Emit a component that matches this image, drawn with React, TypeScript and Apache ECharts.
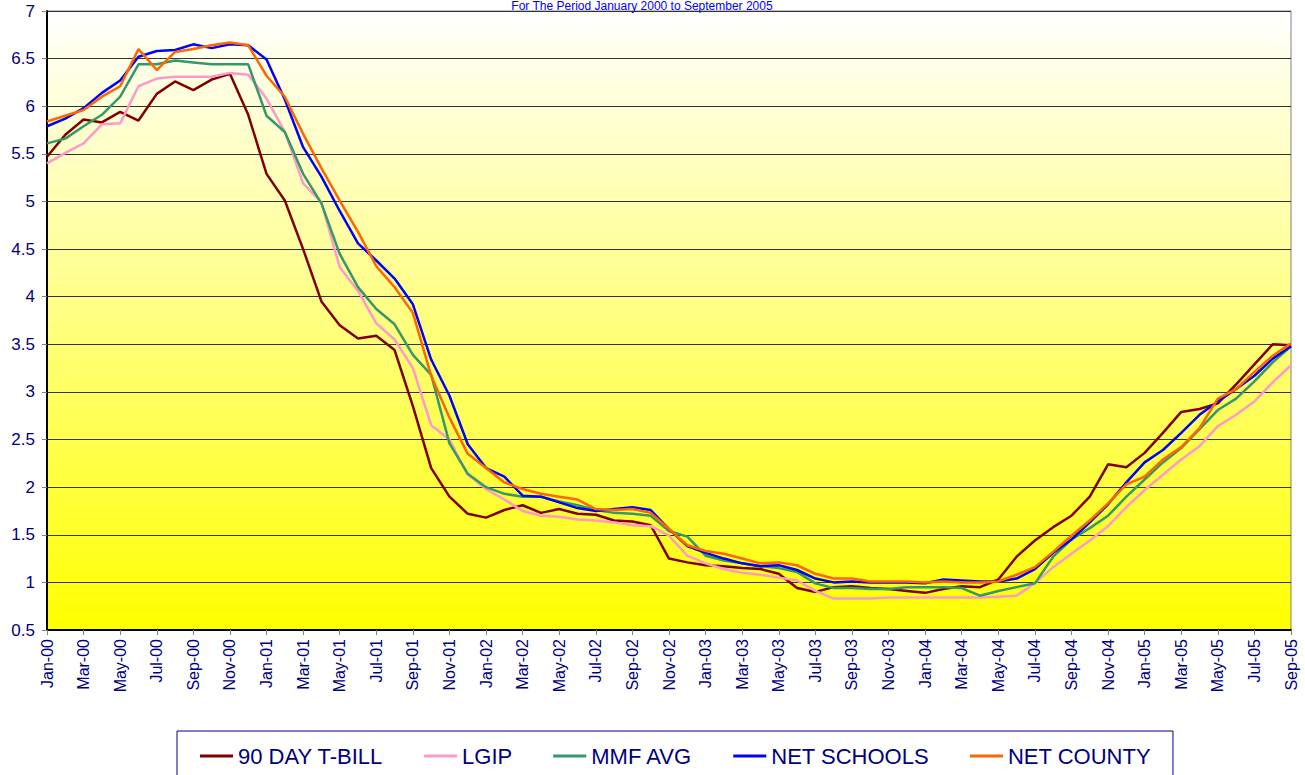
import React, { useEffect, useRef } from "react";
import * as echarts from "echarts";

const months: string[] = [
  "Jan-00","Feb-00","Mar-00","Apr-00","May-00","Jun-00","Jul-00","Aug-00","Sep-00","Oct-00","Nov-00","Dec-00",
  "Jan-01","Feb-01","Mar-01","Apr-01","May-01","Jun-01","Jul-01","Aug-01","Sep-01","Oct-01","Nov-01","Dec-01",
  "Jan-02","Feb-02","Mar-02","Apr-02","May-02","Jun-02","Jul-02","Aug-02","Sep-02","Oct-02","Nov-02","Dec-02",
  "Jan-03","Feb-03","Mar-03","Apr-03","May-03","Jun-03","Jul-03","Aug-03","Sep-03","Oct-03","Nov-03","Dec-03",
  "Jan-04","Feb-04","Mar-04","Apr-04","May-04","Jun-04","Jul-04","Aug-04","Sep-04","Oct-04","Nov-04","Dec-04",
  "Jan-05","Feb-05","Mar-05","Apr-05","May-05","Jun-05","Jul-05","Aug-05","Sep-05",
];

const tBill: number[] = [
  5.47, 5.70, 5.86, 5.83, 5.94, 5.85, 6.13, 6.26, 6.17, 6.28, 6.34, 5.91,
  5.29, 5.01, 4.50, 3.95, 3.70, 3.56, 3.59, 3.44, 2.85, 2.20, 1.90, 1.72,
  1.68, 1.76, 1.81, 1.73, 1.77, 1.72, 1.71, 1.65, 1.64, 1.60, 1.25, 1.21,
  1.18, 1.17, 1.15, 1.14, 1.09, 0.94, 0.90, 0.95, 0.96, 0.94, 0.93, 0.91,
  0.89, 0.93, 0.96, 0.95, 1.03, 1.27, 1.44, 1.58, 1.70, 1.90, 2.24, 2.21,
  2.36, 2.57, 2.79, 2.82, 2.88, 3.08, 3.29, 3.50, 3.49,
];

const lgip: number[] = [
  5.40, 5.51, 5.61, 5.81, 5.82, 6.21, 6.29, 6.31, 6.31, 6.31, 6.35, 6.33,
  6.08, 5.73, 5.19, 4.99, 4.31, 4.06, 3.72, 3.55, 3.25, 2.65, 2.50, 2.13,
  1.98, 1.87, 1.75, 1.70, 1.69, 1.66, 1.65, 1.63, 1.60, 1.59, 1.49, 1.28,
  1.20, 1.14, 1.10, 1.08, 1.05, 1.02, 0.91, 0.83, 0.83, 0.83, 0.84, 0.84,
  0.84, 0.84, 0.84, 0.84, 0.85, 0.86, 0.99, 1.16, 1.30, 1.44, 1.59, 1.79,
  1.97, 2.13, 2.29, 2.43, 2.64, 2.76, 2.90, 3.10, 3.28,
];

const mmfAvg: number[] = [
  5.61, 5.66, 5.79, 5.91, 6.10, 6.44, 6.44, 6.48, 6.46, 6.44, 6.44, 6.44,
  5.90, 5.73, 5.29, 4.98, 4.45, 4.10, 3.87, 3.71, 3.39, 3.18, 2.46, 2.14,
  2.00, 1.93, 1.90, 1.90, 1.85, 1.81, 1.76, 1.73, 1.72, 1.70, 1.54, 1.48,
  1.28, 1.23, 1.20, 1.17, 1.15, 1.11, 0.99, 0.94, 0.94, 0.93, 0.93, 0.95,
  0.95, 0.95, 0.94, 0.86, 0.91, 0.95, 0.99, 1.27, 1.45, 1.57, 1.70, 1.90,
  2.08, 2.26, 2.41, 2.61, 2.81, 2.93, 3.11, 3.31, 3.48,
];

const netSchools: number[] = [
  5.79, 5.87, 5.98, 6.14, 6.27, 6.52, 6.58, 6.59, 6.65, 6.61, 6.65, 6.64,
  6.49, 6.07, 5.57, 5.26, 4.90, 4.56, 4.38, 4.19, 3.92, 3.34, 2.96, 2.45,
  2.20, 2.11, 1.91, 1.90, 1.84, 1.78, 1.75, 1.77, 1.79, 1.76, 1.56, 1.38,
  1.31, 1.25, 1.20, 1.17, 1.18, 1.13, 1.04, 1.00, 1.01, 1.00, 1.00, 1.00,
  0.99, 1.03, 1.02, 1.01, 1.01, 1.04, 1.14, 1.31, 1.45, 1.63, 1.82, 2.05,
  2.26, 2.39, 2.57, 2.76, 2.90, 3.03, 3.17, 3.35, 3.48,
];

const netCounty: number[] = [
  5.84, 5.90, 5.96, 6.10, 6.21, 6.60, 6.38, 6.57, 6.60, 6.64, 6.67, 6.64,
  6.32, 6.10, 5.71, 5.35, 5.01, 4.68, 4.32, 4.10, 3.83, 3.17, 2.73, 2.35,
  2.20, 2.05, 1.98, 1.93, 1.90, 1.87, 1.77, 1.76, 1.77, 1.73, 1.56, 1.39,
  1.33, 1.30, 1.25, 1.20, 1.21, 1.18, 1.09, 1.04, 1.04, 1.01, 1.01, 1.01,
  1.00, 1.01, 1.00, 1.00, 1.01, 1.08, 1.16, 1.32, 1.49, 1.65, 1.83, 2.03,
  2.11, 2.29, 2.42, 2.62, 2.93, 3.03, 3.21, 3.38, 3.51,
];

const seriesNames: string[] = ["90 DAY T-BILL", "LGIP", "MMF AVG", "NET SCHOOLS", "NET COUNTY"];
const seriesColors: string[] = ["#800000", "#FF99CC", "#339966", "#0000FF", "#FF6600"];
const subtitle = "For The Period January 2000 to September 2005";

const FONT = "Arial, 'Liberation Sans', sans-serif";
const NAVY = "#000080";

export default function App() {
  const ref = useRef<HTMLDivElement>(null);

  useEffect(() => {
    if (!ref.current) return;
    const chart = echarts.init(ref.current, undefined, { renderer: "svg" });
    const datasets = [tBill, lgip, mmfAvg, netSchools, netCounty];
    chart.setOption({
      animation: false,
      backgroundColor: "#FFFFFF",
      graphic: [
        {
          type: "text",
          x: 642,
          y: 0,
          z: 100,
          style: {
            text: subtitle,
            fill: "#0000FF",
            fontSize: 12,
            fontFamily: FONT,
            align: "center",
            verticalAlign: "top",
          },
        },
      ],
      grid: {
        left: 47,
        right: 14,
        top: 11,
        bottom: 145,
        show: true,
        borderColor: "#808080",
        borderWidth: 1,
        backgroundColor: new echarts.graphic.LinearGradient(0, 0, 0, 1, [
          { offset: 0, color: "#FFFFFF" },
          { offset: 1, color: "#FFFF00" },
        ]),
      },
      legend: {
        data: seriesNames,
        left: 177,
        top: 731,
        orient: "horizontal",
        icon: "rect",
        itemWidth: 33,
        itemHeight: 3,
        itemGap: 41,
        padding: [14, 22, 20, 23],
        borderColor: NAVY,
        borderWidth: 1,
        textStyle: { color: NAVY, fontSize: 22, fontFamily: FONT },
      },
      xAxis: {
        type: "category",
        data: months,
        boundaryGap: false,
        axisLine: { show: true, lineStyle: { color: "#000000", width: 2 } },
        axisTick: {
          show: true,
          interval: 1,
          length: 5,
          lineStyle: { color: "#808080" },
        },
        axisLabel: {
          interval: 1,
          rotate: 90,
          margin: 9,
          color: NAVY,
          fontSize: 16,
          fontFamily: FONT,
        },
        splitLine: { show: false },
      },
      yAxis: {
        type: "value",
        min: 0.5,
        max: 7,
        interval: 0.5,
        axisLine: { show: true, lineStyle: { color: "#000000", width: 2 } },
        axisTick: { show: true, length: 5, lineStyle: { color: "#808080" } },
        axisLabel: { color: NAVY, fontSize: 17, fontFamily: FONT, margin: 12 },
        splitLine: { show: true, lineStyle: { color: "#333333", width: 1 } },
      },
      series: seriesNames.map((name, i) => ({
        name,
        type: "line",
        data: datasets[i],
        symbol: "none",
        showSymbol: false,
        lineStyle: { color: seriesColors[i], width: 2.5 },
        itemStyle: { color: seriesColors[i] },
        z: 2 + i,
      })),
    });
    return () => chart.dispose();
  }, []);

  return (
    <div
      ref={ref}
      style={{ position: "absolute", left: 0, top: 0, width: 1305, height: 775 }}
    />
  );
}
